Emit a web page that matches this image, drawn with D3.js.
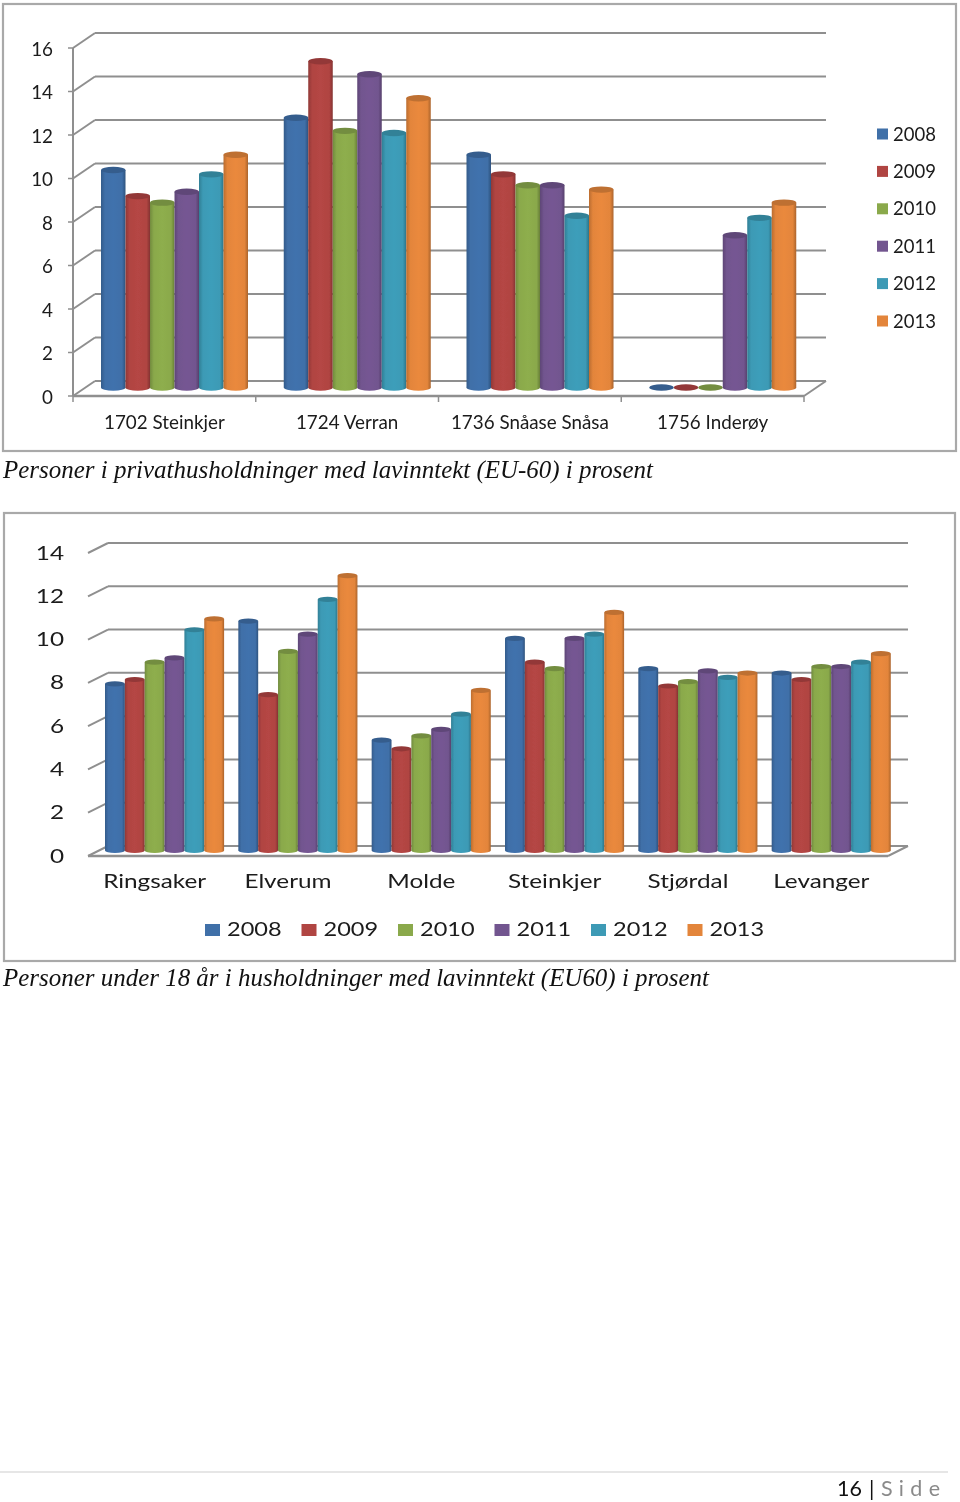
<!DOCTYPE html>
<html><head><meta charset="utf-8">
<script src="https://cdn.jsdelivr.net/npm/d3@7"></script>
<style>html,body{margin:0;padding:0;background:#fff}svg{display:block}</style>
</head><body><svg id="c" width="960" height="1502"></svg>
<script>
const years = ["2008","2009","2010","2011","2012","2013"];
const colors = ["#3f6fa8","#b04442","#8aa94b","#72558f","#3c9ab5","#e3853b"];

const categoriesA = ["1702 Steinkjer","1724 Verran","1736 Snåase Snåsa","1756 Inderøy"];
const steinkjerA = [10.0,8.8,8.5,9.0,9.8,10.7];
const verranA = [12.4,15.0,11.8,14.4,11.7,13.3];
const snasaA = [10.7,9.8,9.3,9.3,7.9,9.1];
const inderoyA = [0,0,0,7.0,7.8,8.5];
const ticksA = [0,2,4,6,8,10,12,14,16];

const categoriesB = ["Ringsaker","Elverum","Molde","Steinkjer","Stjørdal","Levanger"];
const ringsakerB = [7.7,7.9,8.7,8.9,10.2,10.7];
const elverumB = [10.6,7.2,9.2,10.0,11.6,12.7];
const moldeB = [5.1,4.7,5.3,5.6,6.3,7.4];
const steinkjerB = [9.8,8.7,8.4,9.8,10.0,11.0];
const stjordalB = [8.4,7.6,7.8,8.3,8.0,8.2];
const levangerB = [8.2,7.9,8.5,8.5,8.7,9.1];
const ticksB = [0,2,4,6,8,10,12,14];

const captionA = "Personer i privathusholdninger med lavinntekt (EU-60) i prosent";
const captionB = "Personer under 18 år i husholdninger med lavinntekt (EU60) i prosent";

const svg = d3.select("#c");
const defs = svg.append("defs");
const blur = defs.append("filter").attr("id","soft").attr("x","-5%").attr("y","-5%").attr("width","110%").attr("height","110%");
blur.append("feGaussianBlur").attr("stdDeviation",0.5);

colors.forEach((c,i)=>{
  const g = defs.append("linearGradient").attr("id","cyl"+i);
  const col = d3.color(c);
  [[0,col.darker(0.55)],[0.16,col],[0.5,col.brighter(0.08)],[0.86,col],[1,col.darker(0.8)]]
    .forEach(s=>g.append("stop").attr("offset",s[0]).attr("stop-color",s[1]));
});

const SANS = "Lato, Carlito, 'Open Sans', sans-serif";
const GRID = "#8f8f8f";

function label(g,x,y,t,o){
  o = o||{};
  g.append("text")
   .attr("transform",`translate(${x},${y}) scale(${o.sx||1},1)`)
   .attr("text-anchor",o.anchor||"middle")
   .attr("font-family",o.family||SANS)
   .attr("font-size",o.size||19)
   .attr("font-style",o.style||"normal")
   .attr("fill",o.fill||"#1a1a1a")
   .text(t);
}

function chart(cfg){
  const g = svg.append("g");
  g.append("rect").attr("x",cfg.frame[0]).attr("y",cfg.frame[1])
   .attr("width",cfg.frame[2]-cfg.frame[0]).attr("height",cfg.frame[3]-cfg.frame[1])
   .attr("fill","#fff").attr("stroke","#a9a9a9").attr("stroke-width",2.2);

  const plot = g.append("g").attr("filter","url(#soft)");
  const y = d3.scaleLinear().domain([0,cfg.ticks[cfg.ticks.length-1]]).range([cfg.y0,cfg.yTop]);
  const x = d3.scaleBand().domain(cfg.categories).range([cfg.x0,cfg.x1]).padding(0);
  const inner = d3.scaleBand().domain(years).range([cfg.barOff,cfg.barOff+cfg.barW*6]);
  const dx = cfg.dx, dy = cfg.dy;
  const line = (a,b,c,d,sw)=>plot.append("line").attr("x1",a).attr("y1",b).attr("x2",c).attr("y2",d).attr("stroke",GRID).attr("stroke-width",sw||2);

  cfg.ticks.forEach(t=>{
    line(cfg.x0,y(t),cfg.x0+dx,y(t)-dy);
    line(cfg.x0+dx,y(t)-dy,cfg.x1+dx,y(t)-dy);
    if(cfg.axis) line(cfg.x0-5,y(t),cfg.x0,y(t),1.5);
    label(plot,cfg.tickX,y(t)+cfg.tickDy,t,{anchor:"end",sx:cfg.sx,size:cfg.size});
  });
  line(cfg.x0,y(0),cfg.x1,y(0),2.4);
  line(cfg.x1,y(0),cfg.x1+dx,y(0)-dy);
  if(cfg.axis){
    line(cfg.x0,y(0),cfg.x0,y(cfg.ticks[cfg.ticks.length-1]));
    cfg.categories.forEach(c=>line(x(c)+x.bandwidth(),y(0),x(c)+x.bandwidth(),y(0)+6,1.5));
    line(cfg.x0,y(0),cfg.x0,y(0)+6,1.5);
  }

  const ry = cfg.ry;
  cfg.categories.forEach((c,ci)=>{
    const gg = plot.append("g").attr("transform",`translate(${x(c)},0)`);
    cfg.values[ci].forEach((v,i)=>{
      const bx = inner(years[i]), w = inner.bandwidth();
      const yB = y(0)-cfg.baseLift;
      const yT = yB-(y(0)-y(v));
      if(v>0){
        gg.append("rect").attr("x",bx).attr("y",yT).attr("width",w).attr("height",yB-yT).attr("fill",`url(#cyl${i})`);
        gg.append("ellipse").attr("cx",bx+w/2).attr("cy",yB).attr("rx",w/2).attr("ry",ry).attr("fill",`url(#cyl${i})`);
      }
      gg.append("ellipse").attr("cx",bx+w/2).attr("cy",yT).attr("rx",w/2).attr("ry",ry)
        .attr("fill",d3.color(colors[i]).darker(0.5));
    });
    label(plot,x(c)+x.bandwidth()/2+cfg.catDx,cfg.catY,c,{sx:cfg.sx,size:cfg.size});
  });
  return plot;
}

const plotA = chart({
  frame:[3,4,956,451], categories:categoriesA, values:[steinkjerA,verranA,snasaA,inderoyA], ticks:ticksA,
  x0:73,x1:804,y0:396,yTop:48,dx:22,dy:15,barOff:28,barW:24.5,baseLift:8.5,ry:3.2,
  axis:true,tickX:53,tickDy:7.5,catY:428.5,catDx:0,sx:0.965,size:19.5
});
years.forEach((yr,i)=>{
  const ly = d3.scaleLinear().domain([0,5]).range([134,321])(i);
  plotA.append("rect").attr("x",877).attr("y",ly-5.5).attr("width",11).attr("height",11).attr("fill",colors[i]);
  label(plotA,893,ly+6.5,yr,{anchor:"start",size:19.5,sx:0.95});
});

const plotB = chart({
  frame:[4,513,955,961], categories:categoriesB, values:[ringsakerB,elverumB,moldeB,steinkjerB,stjordalB,levangerB], ticks:ticksB,
  x0:88,x1:888,y0:856,yTop:553,dx:20,dy:10,barOff:17,barW:19.85,baseLift:5.5,ry:2.6,
  axis:false,tickX:64,tickDy:6.5,catY:888,catDx:0,sx:1.28,size:19
});
const legendX = d3.scaleBand().domain(years).range([205,784]);
years.forEach((yr,i)=>{
  const lx = legendX(yr);
  plotB.append("rect").attr("x",lx).attr("y",924).attr("width",15).attr("height",12).attr("fill",colors[i]);
  label(plotB,lx+22,936,yr,{anchor:"start",sx:1.24,size:19});
});

function caption(x,y,t,len){
  svg.append("text").attr("x",x).attr("y",y).attr("font-family","'Liberation Serif',serif")
    .attr("font-style","italic").attr("font-size",25).attr("fill","#111")
    .attr("textLength",len).attr("lengthAdjust","spacingAndGlyphs").text(t);
}
caption(3,478,captionA,650);
caption(3,986,captionB,706);

svg.append("line").attr("x1",0).attr("x2",948).attr("y1",1472).attr("y2",1472).attr("stroke","#e6e6e6").attr("stroke-width",2);
const foot = svg.append("text").attr("y",1496).attr("font-family",SANS).attr("font-size",21.5);
foot.append("tspan").attr("x",837).attr("fill","#111").text("16");
foot.append("tspan").attr("x",869).attr("fill","#111").text("|");
foot.append("tspan").attr("x",881).attr("fill","#8a8a8a").attr("letter-spacing",6.3).text("Side");
</script></body></html>
